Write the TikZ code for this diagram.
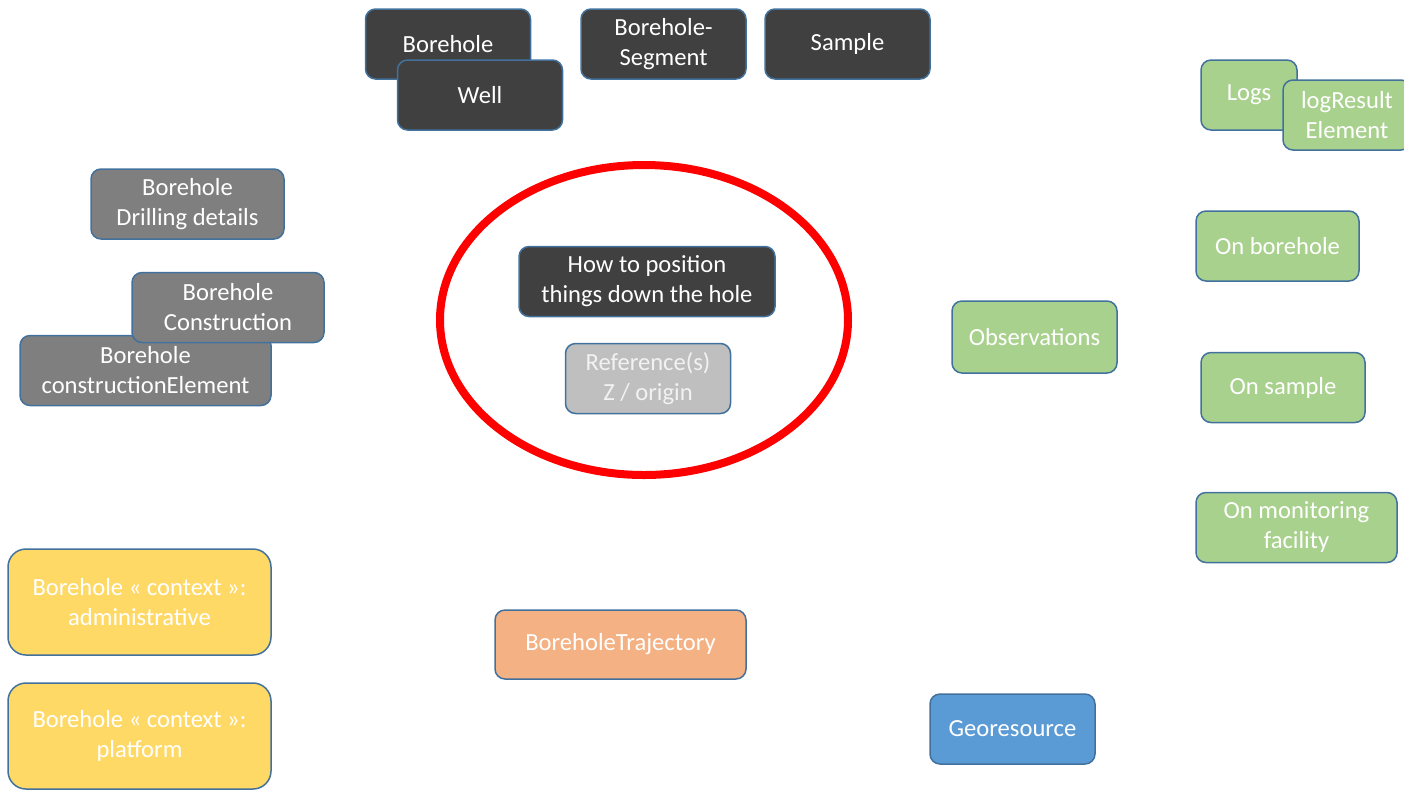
\documentclass[tikz,border=0pt]{standalone}
\usepackage{fontspec}
\setmainfont{Carlito}
\definecolor{Edge}{HTML}{41719C}
\definecolor{Dark}{HTML}{404040}
\definecolor{Mid}{HTML}{7F7F7F}
\definecolor{Light}{HTML}{BFBFBF}
\definecolor{Obs}{HTML}{A9D18E}
\definecolor{Context}{HTML}{FFD966}
\definecolor{Traj}{HTML}{F4B183}
\definecolor{Geo}{HTML}{5B9BD5}
\definecolor{Ring}{HTML}{FF0000}

\begin{document}
\begin{tikzpicture}[x=0.5pt, y=-0.5pt,
  box/.style={draw=Edge, line width=0.75pt, rounded corners=5pt, text=white, align=center,
    inner sep=0pt, minimum width=82.5pt, minimum height=35pt, font=\fontsize{12.3}{15}\selectfont},
  dark/.style={box, fill=Dark},
  mid/.style={box, fill=Mid},
  light/.style={box, fill=Light, text=white!95!black},
  obs/.style={box, fill=Obs},
  context/.style={box, fill=Context, rounded corners=9pt, minimum width=131.5pt, minimum height=53pt}]

 \useasboundingbox (0,0) rectangle (1404,789);

 %%%%%%%%%% Top row %%%%%%%%%%
 \node[dark] (borehole) at (448,44) {Borehole};
 \node[dark] (well) at (480,95) {Well};
 \node[dark] (segment) at (663.5,44) {Borehole-\\Segment};
 \node[dark] (sample) at (847.5,44) {Sample};

 %%%%%%%%%% Left side %%%%%%%%%%
 \node[mid, minimum width=96.5pt] (drilling) at (187.5,204) {Borehole\\Drilling details};
 \node[mid, minimum width=125.5pt] (constrelem) at (145.5,370.5) {Borehole\\constructionElement};
 \node[mid, minimum width=96pt] (construction) at (228,307.5) {Borehole\\Construction};

 %%%%%%%%%% Centre %%%%%%%%%%
 \node[dark, minimum width=128pt] (position) at (647,281.5) {How to position\\things down the hole};
 \node[light] (reference) at (648,378.5) {Reference(s)\\Z / origin};
 \draw[Ring, line width=4pt] (644,320) ellipse [x radius=204, y radius=155];

 %%%%%%%%%% Observations %%%%%%%%%%
 \node[obs, minimum width=48pt] (logs) at (1249,95) {Logs};
 \node[obs, minimum width=64pt] (logresult) at (1347,115) {logResult\\Element};
 \node[obs, minimum height=36pt] (observations) at (1034.5,337) {Observations};
 \node[obs, minimum width=81.5pt] (onborehole) at (1277.5,246) {On borehole};
 \node[obs, minimum width=82pt] (onsample) at (1283,387.5) {On sample};
 \node[obs, minimum width=100.5pt] (onmonitoring) at (1296.5,527.5) {On monitoring\\facility};

 %%%%%%%%%% Bottom %%%%%%%%%%
 \node[context] (admin) at (139.5,602) {Borehole « context »:\\administrative};
 \node[context] (platform) at (139.5,736) {Borehole « context »:\\platform};
 \node[box, fill=Traj, minimum width=125.5pt, minimum height=34.5pt] (trajectory) at (620.5,644.5) {BoreholeTrajectory};
 \node[box, fill=Geo] (georesource) at (1012.5,729) {Georesource};

\end{tikzpicture}
\end{document}
